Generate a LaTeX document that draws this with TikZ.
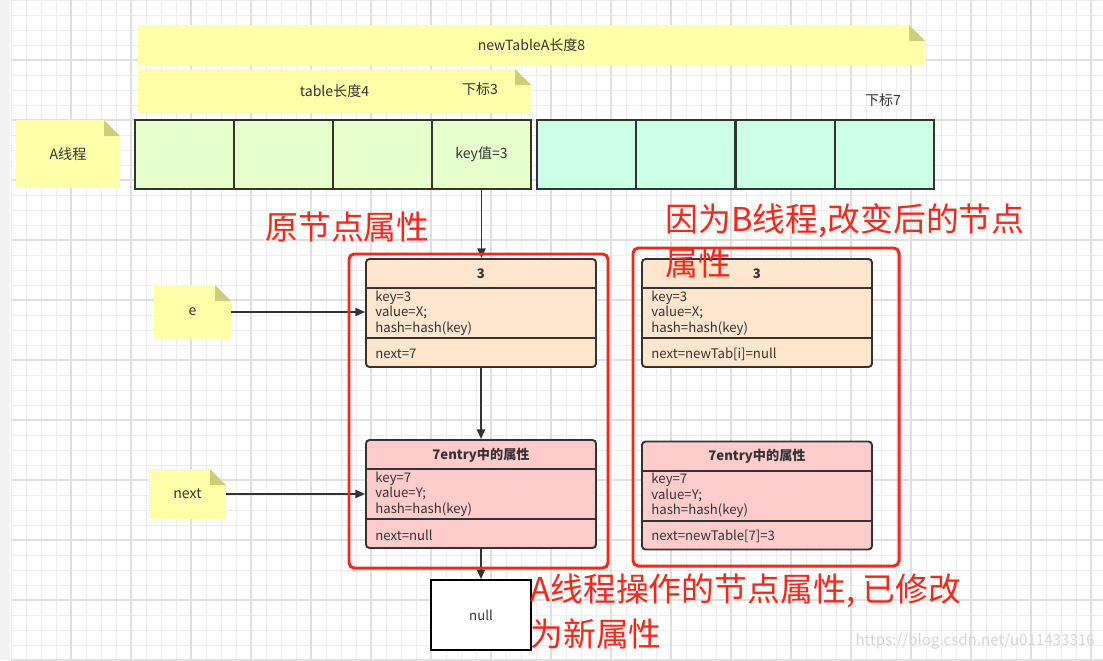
\documentclass[tikz,border=0pt]{standalone}
\usepackage{fontspec}
\setmainfont{Noto Sans CJK SC}
\usepackage{tikz}
\usetikzlibrary{arrows.meta, positioning, calc}
\definecolor{notefill}{HTML}{FFFFAA}
\definecolor{notefold}{HTML}{CDCD7A}
\definecolor{cellgreen}{HTML}{E6FFCC}
\definecolor{cellmint}{HTML}{CCFFE6}
\definecolor{entrypeach}{HTML}{FFE6CC}
\definecolor{entrypink}{HTML}{FFCCCC}
\definecolor{inkgray}{HTML}{333333}
\definecolor{framered}{HTML}{FF2418}
\definecolor{gridminor}{HTML}{EDEDED}
\definecolor{gridmajor}{HTML}{E0E0E0}
\definecolor{gridstrip}{HTML}{F2F2F2}

\begin{document}
\begin{tikzpicture}[x=0.02cm, y=-0.02cm,
      note/.style={inner sep=0pt, text=inkgray, font=\fontsize{8}{9.5}\selectfont},
      cell/.style={draw=inkgray, line width=1.1pt, minimum width=1.98cm,
                   minimum height=1.38cm, inner sep=0pt},
      entry/.style={draw=inkgray, line width=1.1pt, rounded corners=2pt,
                    minimum width=4.6cm, minimum height=2.16cm, inner sep=0pt},
      divider/.style={draw=inkgray, line width=1.1pt},
      small/.style={inner sep=0pt, text=inkgray, font=\fontsize{7.5}{8.8}\selectfont},
      title/.style={small, font=\fontsize{7.5}{8.8}\selectfont\bfseries},
      attr/.style={small, anchor=west, align=left},
      frame/.style={draw=framered, line width=1.7pt, rounded corners=3pt},
      redtext/.style={inner sep=0pt, anchor=west, text=framered,
                      font=\fontsize{18.7}{23}\selectfont},
      arr/.style={->, draw=inkgray, line width=1.1pt},
      >={Triangle[length=5.5pt,width=4.6pt]}]
    \useasboundingbox (0,0) rectangle (1103,660);
    % background grid
    \fill[white] (0,0) rectangle (1103,660);
    \fill[gridstrip] (0,0) rectangle (10,660);
    \foreach \x in {11,26,...,1103} \draw[gridminor, line width=0.5pt] (\x,0) -- (\x,660);
    \foreach \y in {0,15,...,660} \draw[gridminor, line width=0.5pt] (11,\y) -- (1103,\y);
    \foreach \x in {71,131,...,1103} \draw[gridmajor, line width=0.8pt] (\x,0) -- (\x,660);
    \foreach \y in {60,120,...,660} \draw[gridmajor, line width=0.8pt] (11,\y) -- (1103,\y);

    % notes with folded corner
    \foreach \nm/\xa/\ya/\xb/\yb/\txt in {lenB/138/25/925/65/{newTableA长度8},
        lenA/138/69/531/113/{table长度4}, thrA/16/120/120/188/{A线程},
        ref/154/285/231/339/e, nxt/149/469/226/519/next} {
      \fill[notefill] (\xa,\ya) -- (\xb-16,\ya) -- (\xb,\ya+16) -- (\xb,\yb) -- (\xa,\yb) -- cycle;
      \fill[notefold] (\xb-16,\ya) -- (\xb-16,\ya+16) -- (\xb,\ya+16) -- cycle;
      \node[note, minimum width={(\xb-\xa)*0.02cm}, minimum height={(\yb-\ya)*0.02cm}]
            (\nm) at ({(\xa+\xb)/2},{(\ya+\yb)/2}) {\txt};
    }
    \node[note] (idx3) at (480,89) {下标3};
    \node[note] (idx7) at (883,100) {下标7};

    % table and newTable
    \foreach \i in {0,...,3} {
      \node[cell, fill=cellgreen] (a\i) at ({184.5+99*\i},154.5) {};
      \node[cell, fill=cellmint] (b\i) at ({586.6+99.25*\i},154.5) {};
    }
    \node[note] (key3) at (a3) {key值=3};

    % entries
    \node[entry, fill=entrypeach] (e3a) at (481,313) {};
    \node[entry, fill=entrypink] (e7a) at (481,494) {};
    \node[entry, fill=entrypeach] (e3b) at (757,313) {};
    \node[entry, fill=entrypink] (e7b) at (757,495.5) {};
    \foreach \b/\ttl/\kv/\val/\nxtv in {e3a/3/3/X/{next=7},
        e7a/{7entry中的属性}/7/Y/{next=null},
        e3b/3/3/X/{next=newTab[i]=null},
        e7b/{7entry中的属性}/7/Y/{next=newTable[7]=3}} {
      \draw[divider] ($(\b.north west)+(0,30)$) -- ($(\b.north east)+(0,30)$);
      \draw[divider] ($(\b.north west)+(0,80)$) -- ($(\b.north east)+(0,80)$);
      \node[title] at ($(\b.north)+(0,16)$) {\ttl};
      \node[attr] at ($(\b.north west)+(10,55)$) {key=\kv\\value=\val;\\hash=hash(key)};
      \node[attr] at ($(\b.north west)+(10,96)$) {\nxtv};
    }
    \node[draw=black, line width=0.9pt, fill=white, minimum width=2cm,
          minimum height=1.4cm, inner sep=0pt, font=\fontsize{7.5}{8.8}\selectfont,
          text=inkgray] (nul) at (481,615) {null};

    \draw[arr] (a3.south) -- (a3.south |- e3a.north);
    \draw[arr] (e3a.south) -- (e7a.north);
    \draw[arr] (e7a.south) -- (nul.north);
    \draw[arr] (ref.east) -- (ref.east -| e3a.west);
    \draw[arr] (nxt.east) -- (nxt.east -| e7a.west);

    % red frames and remarks
    \draw[frame] (349,254) rectangle (608,568);
    \draw[frame] (633,248) rectangle (899,566);
    \node[redtext] (old) at (265,227) {原节点属性};
    \node[redtext] (newB1) at (665,221) {因为B线程,改变后的节点};
    \node[redtext] (newB2) at (665,263) {属性};
    \node[redtext] (opA1) at (530,591) {A线程操作的节点属性, 已修改};
    \node[redtext] (opA2) at (530,634) {为新属性};
    \node[anchor=east, inner sep=0pt, text=black!16, font=\fontsize{8.6}{10}\selectfont]
          (mark) at (1095,641) {https://blog.csdn.net/u011433316};
  \end{tikzpicture}
\end{document}
